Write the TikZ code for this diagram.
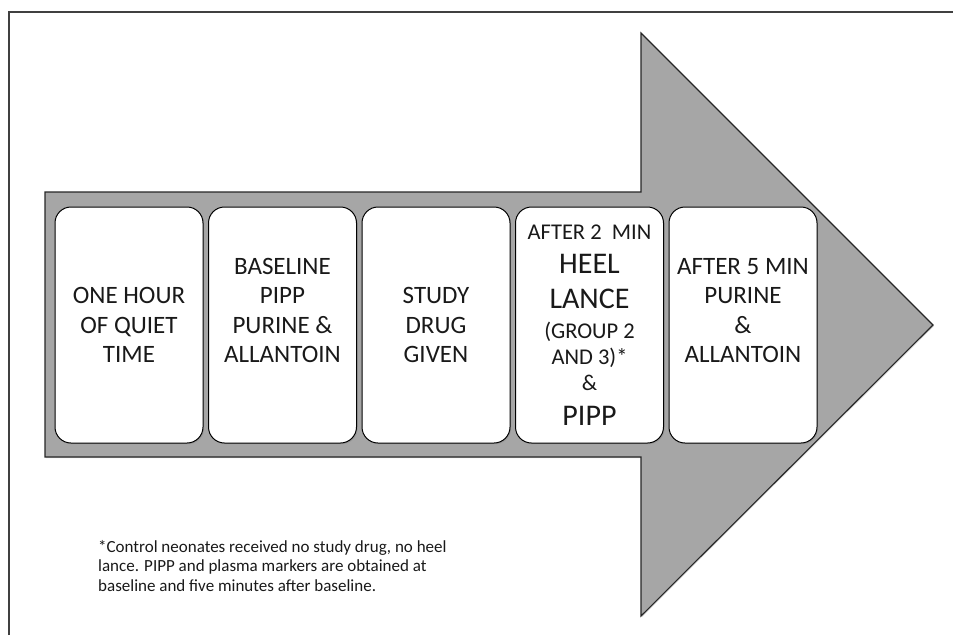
\documentclass[tikz,border=0pt]{standalone}
\usepackage{fontspec}
\setmainfont{Carlito}
\usetikzlibrary{positioning,shadows}
\definecolor{arrowgray}{HTML}{A6A6A6}
\definecolor{framegray}{HTML}{404040}

\begin{document}
\begin{tikzpicture}[
    x=1pt, y=-1pt,
    node distance=4.5pt,
    stepbox/.style={draw=black, line width=1pt, fill=white, rounded corners=16pt, minimum width=148pt, minimum height=236pt, inner sep=2pt, align=center, font=\fontsize{25}{29.5}\selectfont, text=black!90, drop shadow={shadow xshift=1.2pt, shadow yshift=-1.2pt, opacity=0.35}},
    body/.style={draw=black!85, line width=1.1pt, fill=arrowgray, drop shadow={shadow xshift=1pt, shadow yshift=-1pt, opacity=0.3}},
    frame/.style={draw=framegray, line width=2pt},
    note/.style={inner sep=0pt, align=left, font=\fontsize{17}{19.5}\selectfont, text=black!90}
]
\useasboundingbox (0,0) rectangle (953,635);

% Frame
\draw[frame] (9,635) -- (9,12) -- (953,12);

% Arrow
\path[body] (45,192) -- (641,192) -- (641,33) -- (933,325) -- (641,616) -- (641,457) -- (45,457) -- cycle;

% Steps
\node[stepbox] (quiet) at (129,325) {ONE HOUR\\OF QUIET\\TIME};
\node[stepbox, right=of quiet] (baseline) {BASELINE\\PIPP\\PURINE \&\\ALLANTOIN\\\mbox{}};
\node[stepbox, right=of baseline] (drug) {STUDY\\DRUG\\GIVEN};
\node[stepbox, right=of drug, font=\fontsize{22.5}{26}\selectfont] (lance) {AFTER 2~~MIN\\[8pt]{\fontsize{30}{26}\selectfont HEEL}\\[9pt]{\fontsize{30}{26}\selectfont LANCE}\\[4pt](GROUP 2\\AND 3)*\\\&\\[9pt]{\fontsize{30}{26}\selectfont PIPP}};
\node[stepbox, right=of lance] (after) {AFTER 5 MIN\\PURINE\\\&\\ALLANTOIN\\\mbox{}};

% Footnote
\node[note, anchor=north west] (footnote) at (98,540) {*Control neonates received no study drug, no heel\\lance. PIPP and plasma markers are obtained at\\baseline and five minutes after baseline.};

\end{tikzpicture}
\end{document}
